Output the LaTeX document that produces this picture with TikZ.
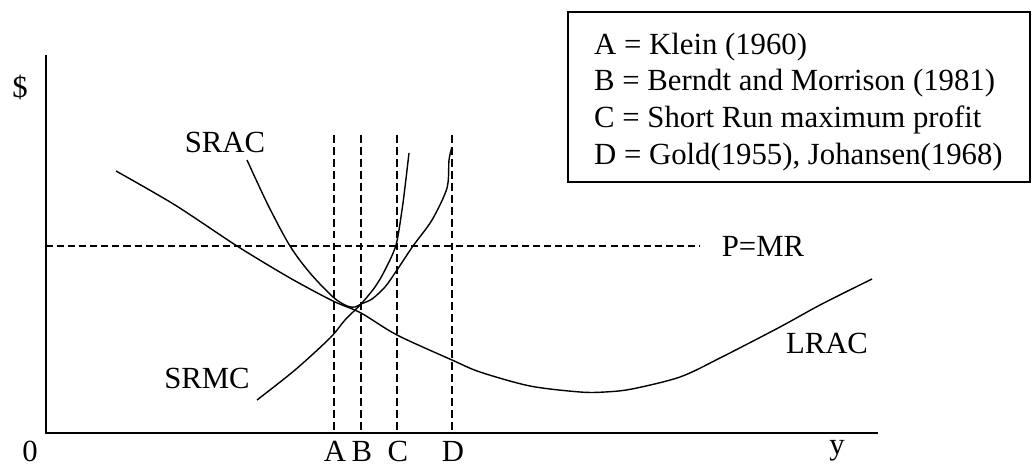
\documentclass[tikz,border=0pt]{standalone}
\usepackage{fontspec}
\setmainfont{Liberation Serif}
\usepackage{tikz}
\usetikzlibrary{positioning}

\begin{document}
\begin{tikzpicture}[x=0.02cm,y=-0.02cm,
	font=\fontsize{17.5}{21}\selectfont,
	curve/.style={line width=0.8pt},
	axis/.style={line width=1.1pt},
	cutline/.style={line width=1.1pt,dash pattern=on 4.5pt off 2.3pt},
	priceline/.style={line width=0.7pt,dash pattern=on 4pt off 2.3pt}]
		\useasboundingbox (0,0) rectangle (1035,466);
		%Axes
		\coordinate (origin) at (46,433);
		\coordinate (ytop) at (46,55);
		\coordinate (xend) at (878,433);
		\draw[axis] (ytop)--(origin)--(xend);
		\node[] (dollar) at (20,88) {\$};
		\node[] (zero) at (30,451) {0};
		\node[] (ylab) at (837,451) {y};
		%Price line
		\coordinate (pleft) at (46,246);
		\coordinate (pright) at (700,246);
		\draw[priceline] (pleft)--(pright);
		\node[] (pmr) at (763,246) {P=MR};
		%Output levels A to D
		\foreach \x/\lab/\ly in {334/A/451,361/B/451,397/C/451,452/D/451}
		{
		\draw[cutline] (\x,135)--(\x,433);
		\node[] (lab\lab) at (\x+1,\ly) {\lab};
		}
		%Cost curves
		\draw[curve] plot[smooth,tension=0.5] coordinates {(116,171) (175,205) (237,246) (290,278) (333,301) (361,313) (397,335) (452,360) (480,372) (530,386) (580,392) (605,392) (632,389) (680,377) (720,358) (780,327) (820,305) (872,279)};
		\draw[curve] plot[smooth,tension=0.5] coordinates {(247,160) (268,205) (290,246) (310,273) (333,297) (347,306) (355,307) (361,304) (372,299) (385,287) (397,270) (413,246) (432,220) (447,188) (449,160) (452,147)};
		\draw[curve] plot[smooth,tension=0.5] coordinates {(257,400) (295,370) (330,338) (345,320) (361,304) (375,287) (385,270) (396,245) (402,210) (405,187) (409,153)};
		\node[] (srac) at (225,142) {SRAC};
		\node[] (srmc) at (207,378) {SRMC};
		\node[] (lrac) at (827,343) {LRAC};
		%Key
		\node[draw,line width=0.8pt,minimum width=9.24cm,minimum height=3.4cm] (keybox) at (799,97) {};
		\node[anchor=west,align=left] (key) at (588,102) {A = Klein (1960)\\B = Berndt and Morrison (1981)\\C = Short Run maximum profit\\D = Gold(1955), Johansen(1968)};
\end{tikzpicture}
\end{document}
